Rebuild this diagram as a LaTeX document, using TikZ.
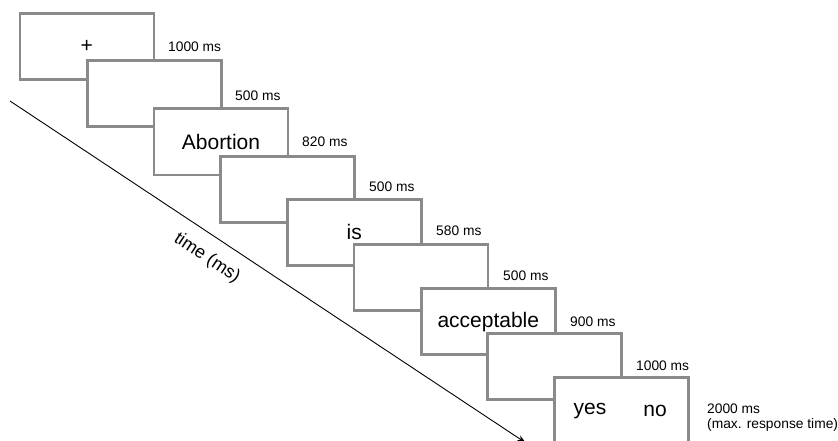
\documentclass[tikz,border=0pt]{standalone}
\usepackage{fontspec}
\setmainfont{Liberation Sans}
\usetikzlibrary{arrows.meta}
\definecolor{boxgray}{HTML}{8A8A8A}
\tikzset{
  screen/.style={draw=boxgray, line width=2.6pt, fill=white, minimum width=134pt, minimum height=66pt, inner sep=0pt, anchor=north west},
  tlabel/.style={anchor=west, inner sep=0pt, font=\fontsize{13.8}{16}\selectfont},
  word/.style={inner sep=0pt, font=\fontsize{21}{25}\selectfont}
}
\begin{document}
\begin{tikzpicture}[x=1pt,y=1pt]
\useasboundingbox (0,0) rectangle (838,-441);
\clip (0,0) rectangle (838,-441);
% time axis
\coordinate (ts) at (10,-101);
\coordinate (te) at (526,-443);
\draw[line width=0.9pt, -{Stealth[length=9pt,width=6pt]}] (ts) -- (te);
\node[rotate=-33.5, inner sep=0pt, font=\fontsize{18}{21}\selectfont] (tlab) at (207,-258) {time (ms)};
% screens
\node[screen] (s0) at (18.5,-12) {};
\node[word] (t0) at (s0.center) {+};
\node[screen] (s1) at (86,-59) {};
\node[screen] (s2) at (152.7,-107.5) {};
\node[word] (t2) at (s2.center) {Abortion};
\node[screen] (s3) at (219.3,-155) {};
\node[screen] (s4) at (286,-198) {};
\node[word] (t4) at (s4.center) {is};
\node[screen] (s5) at (352.7,-243) {};
\node[screen] (s6) at (420,-287) {};
\node[word] (t6) at ([yshift=-1pt]s6.center) {acceptable};
\node[screen] (s7) at (486,-332) {};
\node[screen, minimum height=72pt] (s8) at (553,-376) {};
\node[word] (t8a) at (590,-411) {yes};
\node[word] (t8b) at (655,-411) {no};
% durations
\node[tlabel] (d0) at (168,-47) {1000 ms};
\node[tlabel] (d1) at (235,-96) {500 ms};
\node[tlabel] (d2) at (302,-142) {820 ms};
\node[tlabel] (d3) at (369,-187) {500 ms};
\node[tlabel] (d4) at (436,-231) {580 ms};
\node[tlabel] (d5) at (503,-276) {500 ms};
\node[tlabel] (d6) at (570,-322) {900 ms};
\node[tlabel] (d7) at (636,-366) {1000 ms};
\node[tlabel, align=left, anchor=north west] (d8) at (707,-404) {2000 ms\\[-1pt](max. response time)};
\end{tikzpicture}
\end{document}
